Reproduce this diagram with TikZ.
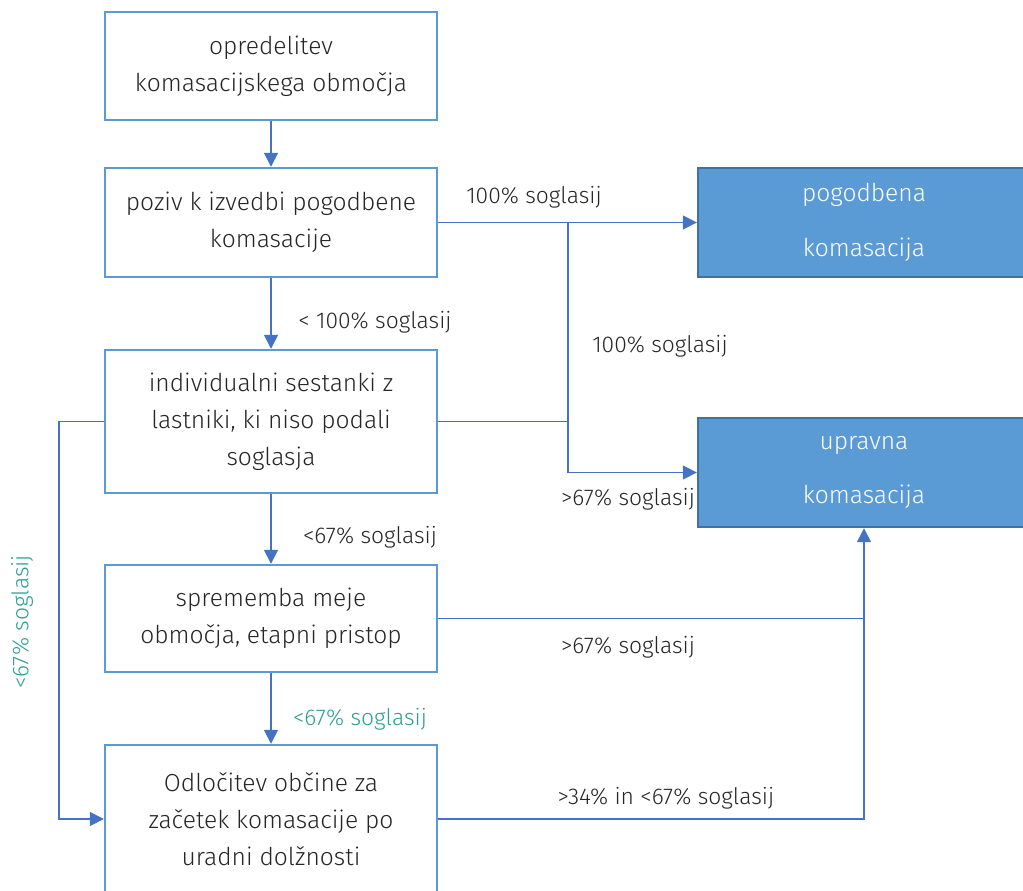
\documentclass[tikz,border=0pt]{standalone}
\usepackage{fontspec}
\setmainfont{Fira Sans Light}
\usetikzlibrary{arrows.meta}
\definecolor{okvir}{HTML}{5B9BD5}
\definecolor{puscica}{HTML}{4472C4}
\definecolor{polnilo}{HTML}{5B9BD5}
\definecolor{robtemni}{HTML}{41719C}
\definecolor{zelena}{HTML}{2E9E96}
\tikzset{
  korak/.style={draw=okvir, line width=1.4pt, minimum width=6.64cm, align=center,
    inner sep=0pt, font=\fontsize{14}{21}\selectfont, text=black!85},
  izid/.style={draw=robtemni, fill=polnilo, line width=1.4pt, minimum width=6.64cm,
    minimum height=2.18cm, align=center, inner sep=0pt, text=white,
    font=\fontsize{14}{31}\selectfont},
  crta/.style={draw=puscica, line width=0.85pt},
  povezava/.style={crta, -{Triangle[length=0.28cm,width=0.28cm]}},
  opis/.style={font=\fontsize{13}{14}\selectfont, text=black!85, inner sep=0pt}
}
\begin{document}
\begin{tikzpicture}[x=0.02cm, y=-0.02cm]
    \useasboundingbox (0,0) rectangle (1023,891);
    \clip (0,0) rectangle (1023,891);
    % Koraki postopka
    \node[korak, minimum height=2.16cm] (k1) at (271,66) {opredelitev\\komasacijskega območja};
    \node[korak, minimum height=2.18cm] (k2) at (271,222.5) {poziv k izvedbi pogodbene\\komasacije};
    \node[korak, minimum height=2.86cm] (k3) at (271,421.5) {individualni sestanki z\\lastniki, ki niso podali\\soglasja};
    \node[korak, minimum height=2.14cm] (k4) at (271,618.5) {sprememba meje\\območja, etapni pristop};
    \node[korak, minimum height=2.96cm] (k5) at (271,819) {Odločitev občine za\\začetek komasacije po\\uradni dolžnosti};
    % Izida
    \node[izid] (pog) at (864,222.5) {pogodbena\\komasacija};
    \node[izid] (upr) at (864,472.5) {upravna\\komasacija};
    % Navpicne povezave
    \draw[povezava] (k1) -- (k2);
    \draw[povezava] (k2) -- (k3);
    \draw[povezava] (k3) -- (k4);
    \draw[povezava] (k4) -- (k5);
    % Desno proti izidom
    \coordinate (razcep) at (568,222.5);
    \draw[povezava] (k2.east) -- (pog.west);
    \draw[crta] (k3.east) -| (razcep);
    \draw[povezava] (razcep) |- (upr.west);
    \draw[crta] (k4.east) -- (k4.east -| upr.south);
    \draw[povezava] (k5.east) -| (upr.south);
    % Levo mimo koraka 4
    \draw[povezava] (k3.west) -- ++(-45,0) |- (k5.west);
    % Oznake
    \node[opis] (o1) at (534,197) {100\% soglasij};
    \node[opis] (o2) at (375,322) {< 100\% soglasij};
    \node[opis] (o3) at (660,346) {100\% soglasij};
    \node[opis] (o4) at (628,499) {>67\% soglasij};
    \node[opis] (o5) at (370,537) {<67\% soglasij};
    \node[opis] (o6) at (628,647) {>67\% soglasij};
    \node[opis, text=zelena] (o7) at (360,719) {<67\% soglasij};
    \node[opis] (o8) at (666,798) {>34\% in <67\% soglasij};
    \node[opis, text=zelena, rotate=90] (o9) at (22,622) {<67\% soglasij};
\end{tikzpicture}
\end{document}
